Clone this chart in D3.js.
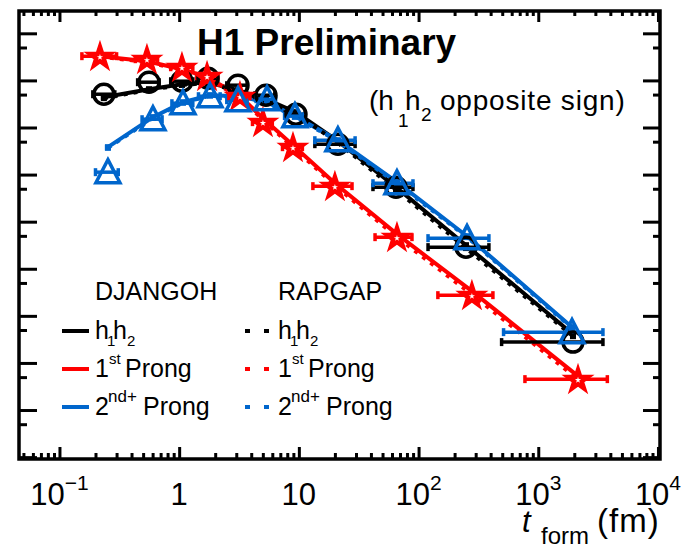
<!DOCTYPE html>
<html>
<head>
<meta charset="utf-8">
<script src="https://cdn.jsdelivr.net/npm/d3@7.9.0/dist/d3.min.js"></script>
<style>
  html, body { margin: 0; padding: 0; background: #fff; }
  svg { display: block; font-family: "Liberation Sans", Arial, Helvetica, sans-serif; }
</style>
</head>
<body>
<svg id="chart" width="681" height="547"></svg>
<script>
// bin positions (t_form in fm) for each series
const tH = [0.235, 0.56, 1.055, 1.74, 3.10, 5.31, 9.46, 21.2, 64.8, 249, 1950];
const tP1 = [0.218, 0.538, 1.055, 1.71, 3.22, 5.01, 8.93, 20.0, 66.0, 279, 2148];
const tP2 = [0.254, 0.604, 1.076, 1.81, 3.10, 5.42, 9.27, 21.2, 66.0, 254, 1914];

// horizontal error bars (low / high edge in fm)
const loH = [0.19, 0.45, 0.85, 1.4, 2.5, 4.3, 7.7, 13.6, 41.6, 120, 494];
const hiH = [0.29, 0.68, 1.3, 2.1, 3.7, 6.3, 11.3, 29.5, 89.8, 387, 3470];
const loP1 = [0.154, 0.43, 0.85, 1.4, 2.6, 4.1, 7.3, 13.1, 43.3, 145, 774];
const hiP1 = [0.30, 0.66, 1.3, 2.1, 3.9, 6.0, 10.7, 27.8, 88.1, 418, 3776];
const loP2 = [0.20, 0.49, 0.87, 1.45, 2.5, 4.4, 7.6, 13.6, 41.6, 120, 513];
const hiP2 = [0.31, 0.72, 1.3, 2.2, 3.7, 6.4, 11.0, 29.5, 89.8, 387, 3470];

// data (markers)
const dataH = [0.509, 0.916, 0.962, 1.114, 0.791, 0.485, 0.191, 0.0442, 0.0054, 2.88e-4, 2.77e-6];
const dataP1 = [3.27, 2.82, 1.905, 1.227, 0.462, 0.130, 0.0382, 0.00568, 4.69e-4, 2.75e-5, 4.53e-7];
const dataP2 = [0.01125, 0.150, 0.328, 0.462, 0.380, 0.399, 0.174, 0.0537, 0.00656, 4.47e-4, 4.51e-6];

// DJANGOH (solid)
const djH = [0.440, 0.650, 0.830, 0.916, 0.619, 0.399, 0.211, 0.0512, 0.0054, 3.17e-4, 4.08e-6];
const djP1 = [3.27, 2.56, 1.73, 1.17, 0.462, 0.157, 0.0421, 0.00656, 5.43e-4, 3.34e-5, 5.25e-7];
const djP2 = [0.0382, 0.166, 0.344, 0.485, 0.462, 0.344, 0.174, 0.0537, 0.0069, 4.92e-4, 5.75e-6];

// RAPGAP (dotted)
const rgH = [0.42, 0.63, 0.80, 0.88, 0.59, 0.38, 0.198, 0.047, 0.0048, 2.75e-4, 3.7e-6];
const rgP1 = [3.2, 2.45, 1.66, 1.12, 0.43, 0.145, 0.038, 0.0059, 4.7e-4, 2.85e-5, 4.5e-7];
const rgP2 = [0.037, 0.160, 0.335, 0.475, 0.452, 0.337, 0.168, 0.051, 0.0065, 4.7e-4, 5.5e-6];

const xMajor = [0.1, 1, 10, 100, 1000, 10000];
const xLabels = [['10', '\u22121'], ['1', ''], ['10', ''], ['10', '2'], ['10', '3'], ['10', '4']];

const BLACK = '#000000', RED = '#ff0000', BLUE = '#0066cc';

const svg = d3.select('#chart');
const L = 19, R = 660, T = 11, B = 459;

const x = d3.scaleLog().domain([10 ** -1.338, 10 ** 4.017]).range([L, R]);
const y = d3.scaleLog().domain([10 ** -8.04, 10 ** 1.474]).range([B, T]);

// ---- ticks via d3 axes
const xMinor = [];
for (let e = -2; e <= 3; e++) for (let m = 2; m <= 9; m++) {
  const v = m * 10 ** e;
  if (v > x.domain()[0] && v < x.domain()[1]) xMinor.push(v);
}
const yMajor = d3.range(-8, 2).map((e) => 10 ** e);
const yMinor = d3.range(-8, 2).map((e) => 5 * 10 ** e).filter((v) => v < y.domain()[1]);

function tickAxis(axis, tr) {
  const g = svg.append('g').attr('transform', tr).call(axis);
  g.select('.domain').remove();
  g.selectAll('text').remove();
  g.selectAll('line').attr('stroke', BLACK).attr('stroke-width', 3);
}
tickAxis(d3.axisTop(x).tickValues(xMajor).tickSize(12), `translate(0,${B})`);
tickAxis(d3.axisTop(x).tickValues(xMinor).tickSize(6), `translate(0,${B})`);
tickAxis(d3.axisBottom(x).tickValues(xMajor).tickSize(11), `translate(0,${T})`);
tickAxis(d3.axisBottom(x).tickValues(xMinor).tickSize(5), `translate(0,${T})`);
tickAxis(d3.axisRight(y).tickValues(yMajor).tickSize(18), `translate(${L},0)`);
tickAxis(d3.axisRight(y).tickValues(yMinor).tickSize(8), `translate(${L},0)`);
tickAxis(d3.axisLeft(y).tickValues(yMajor).tickSize(17), `translate(${R},0)`);
tickAxis(d3.axisLeft(y).tickValues(yMinor).tickSize(7), `translate(${R},0)`);

// ---- x tick labels
xMajor.forEach((v, i) => {
  const t = svg.append('text')
    .attr('x', x(v)).attr('y', 505)
    .attr('text-anchor', 'middle')
    .attr('font-size', 31);
  t.append('tspan').text(xLabels[i][0]);
  if (xLabels[i][1]) t.append('tspan').attr('font-size', 21).attr('dy', -15).text(xLabels[i][1]);
});

// ---- axis title
const at = svg.append('g');
at.append('text').attr('x', 522).attr('y', 532).attr('font-size', 31).attr('font-style', 'italic').text('t');
at.append('text').attr('x', 541).attr('y', 544).attr('font-size', 24).text('form');
at.append('text').attr('x', 597).attr('y', 532).attr('font-size', 33).attr('letter-spacing', 1).text('(fm)');

// ---- MC curves
const clipId = 'plotclip';
svg.append('clipPath').attr('id', clipId).append('rect')
  .attr('x', L).attr('y', T).attr('width', R - L).attr('height', B - T);
const plot = svg.append('g').attr('clip-path', `url(#${clipId})`);

const line = d3.line().x((d) => x(d[0])).y((d) => y(d[1]));
const curves = [
  { t: tH, v: djH, c: BLACK, dash: null },
  { t: tP1, v: djP1, c: RED, dash: null },
  { t: tP2, v: djP2, c: BLUE, dash: null },
  { t: tH, v: rgH, c: BLACK, dash: '4,6' },
  { t: tP1, v: rgP1, c: RED, dash: '4,6' },
  { t: tP2, v: rgP2, c: BLUE, dash: '4,6' }
];
curves.forEach((s) => {
  const pts = s.t.map((t, i) => [t, s.v[i]]);
  plot.append('path').datum(pts)
    .attr('d', line)
    .attr('fill', 'none')
    .attr('stroke', s.c)
    .attr('stroke-width', 4)
    .attr('stroke-dasharray', s.dash);
  plot.selectAll(null).data(pts).enter().append('rect')
    .attr('x', (d) => x(d[0]) - 3).attr('y', (d) => y(d[1]) - 3)
    .attr('width', 6).attr('height', 6)
    .attr('fill', s.c);
});

// ---- data: error bars + markers
function errorBars(t, v, lo, hi, c) {
  const g = plot.append('g').attr('stroke', c).attr('stroke-width', 3.5);
  t.forEach((tv, i) => {
    const yy = y(v[i]);
    g.append('line').attr('x1', x(lo[i])).attr('x2', x(hi[i])).attr('y1', yy).attr('y2', yy);
    g.append('line').attr('x1', x(lo[i])).attr('x2', x(lo[i])).attr('y1', yy - 4).attr('y2', yy + 4);
    g.append('line').attr('x1', x(hi[i])).attr('x2', x(hi[i])).attr('y1', yy - 4).attr('y2', yy + 4);
  });
}
errorBars(tH, dataH, loH, hiH, BLACK);
errorBars(tP2, dataP2, loP2, hiP2, BLUE);
errorBars(tP1, dataP1, loP1, hiP1, RED);

plot.selectAll(null).data(tH.map((t, i) => [t, dataH[i]])).enter().append('circle')
  .attr('cx', (d) => x(d[0])).attr('cy', (d) => y(d[1])).attr('r', 10)
  .attr('fill', 'none').attr('stroke', BLACK).attr('stroke-width', 3.5);

const bigStar = d3.symbol().type(d3.symbolStar).size(340);
const smallStar = d3.symbol().type(d3.symbolStar).size(12);
const starPts = tP1.map((t, i) => [t, dataP1[i]]);
plot.selectAll(null).data(starPts).enter().append('path')
  .attr('transform', (d) => `translate(${x(d[0])},${y(d[1]) + 1})`)
  .attr('d', bigStar).attr('fill', RED);
plot.selectAll(null).data(starPts).enter().append('path')
  .attr('transform', (d) => `translate(${x(d[0])},${y(d[1]) + 1})`)
  .attr('d', smallStar).attr('fill', '#fff');

plot.selectAll(null).data(tP2.map((t, i) => [t, dataP2[i]])).enter().append('path')
  .attr('transform', (d) => `translate(${x(d[0])},${y(d[1])})`)
  .attr('d', 'M0,-12.5L12,10.5L-12,10.5Z')
  .attr('fill', 'none').attr('stroke', BLUE).attr('stroke-width', 3.5).attr('stroke-linejoin', 'miter');

// ---- frame
svg.append('rect').attr('x', L).attr('y', T).attr('width', R - L).attr('height', B - T)
  .attr('fill', 'none').attr('stroke', BLACK).attr('stroke-width', 3.5);

// ---- title texts
svg.append('text').attr('x', 197).attr('y', 55).attr('font-size', 37).attr('font-weight', 'bold').text('H1 Preliminary');

const sub = svg.append('text').attr('y', 110).attr('font-size', 28);
sub.append('tspan').attr('x', 369).text('(h');
sub.append('tspan').attr('x', 398).attr('dy', 17).attr('font-size', 19).text('1');
sub.append('tspan').attr('x', 405).attr('dy', -17).text('h');
sub.append('tspan').attr('x', 421).attr('dy', 11).attr('font-size', 19).text('2');
sub.append('tspan').attr('x', 440).attr('dy', -11).attr('letter-spacing', 0.8).text('opposite sign)');

// ---- legend
const leg = svg.append('g').attr('font-size', 25);
leg.append('text').attr('x', 95).attr('y', 300).text('DJANGOH');
leg.append('text').attr('x', 278).attr('y', 300).text('RAPGAP');

const rows = [
  { c: BLACK, y: 331, kind: 'h' },
  { c: RED, y: 369, kind: 'p1' },
  { c: BLUE, y: 407, kind: 'p2' }
];
function legendLabel(x0, row) {
  const t = leg.append('text').attr('y', row.y + 8);
  if (row.kind === 'h') {
    t.append('tspan').attr('x', x0).text('h');
    t.append('tspan').attr('x', x0 + 12).attr('dy', 7).attr('font-size', 15).text('1');
    t.append('tspan').attr('x', x0 + 18).attr('dy', -7).text('h');
    t.append('tspan').attr('x', x0 + 32).attr('dy', 7).attr('font-size', 15).text('2');
  } else if (row.kind === 'p1') {
    t.append('tspan').attr('x', x0).text('1');
    t.append('tspan').attr('x', x0 + 14).attr('dy', -13).attr('font-size', 15).text('st');
    t.append('tspan').attr('x', x0 + 30).attr('dy', 13).text('Prong');
  } else {
    t.append('tspan').attr('x', x0).text('2');
    t.append('tspan').attr('x', x0 + 13).attr('dy', -13).attr('font-size', 17).text('nd+');
    t.append('tspan').attr('x', x0 + 48).attr('dy', 13).text('Prong');
  }
}
rows.forEach((row) => {
  leg.append('line').attr('x1', 62).attr('x2', 89).attr('y1', row.y).attr('y2', row.y)
    .attr('stroke', row.c).attr('stroke-width', 4);
  legendLabel(95, row);
  leg.append('line').attr('x1', 245).attr('x2', 269).attr('y1', row.y).attr('y2', row.y)
    .attr('stroke', row.c).attr('stroke-width', 4).attr('stroke-dasharray', '5,14');
  legendLabel(278, row);
});
</script>
</body>
</html>
